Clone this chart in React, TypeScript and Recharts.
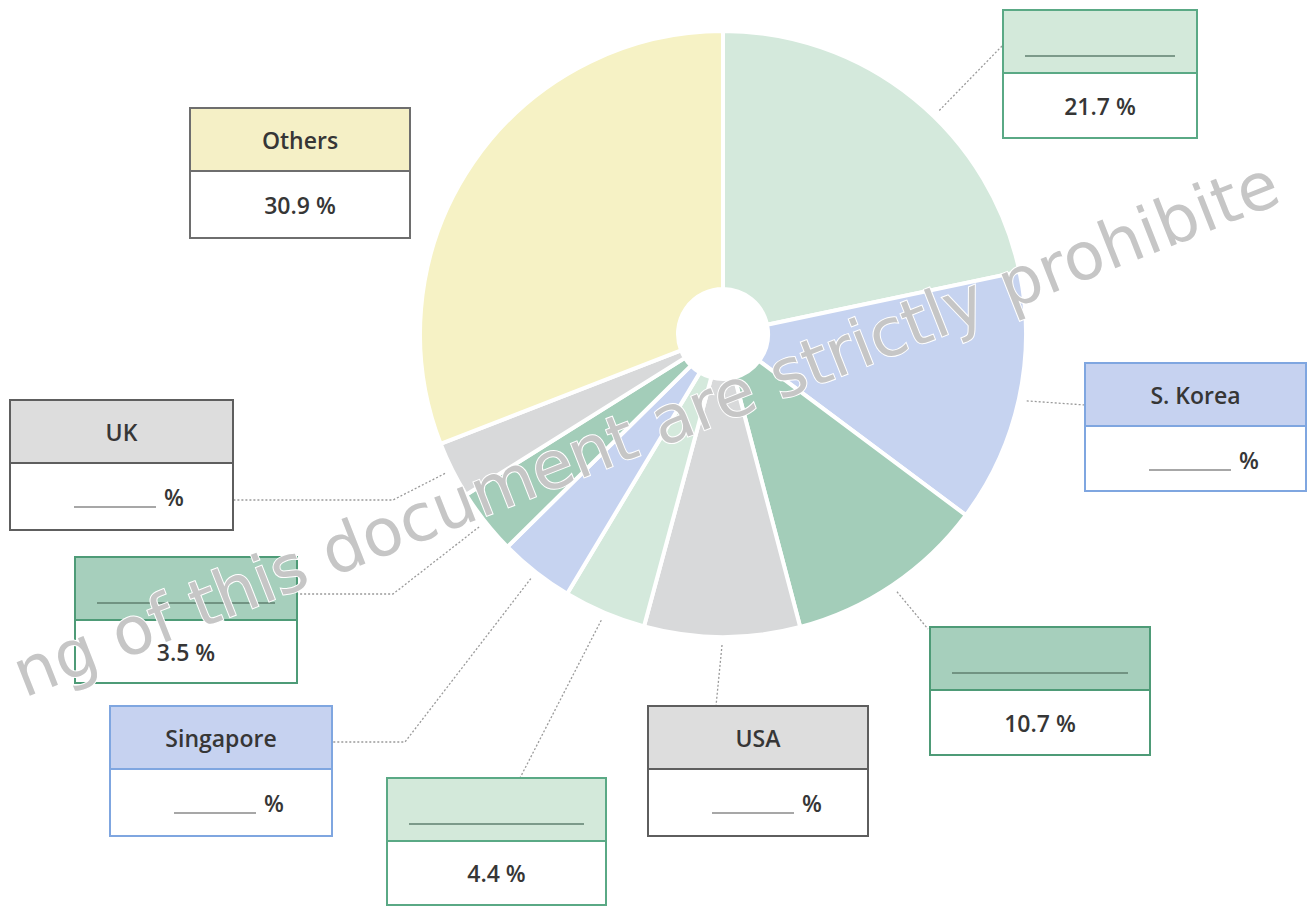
import React from 'react';
import { PieChart, Pie, Cell } from 'recharts';

// slices clockwise from 12 o'clock
const countries = ['', 'S. Korea', '', 'USA', '', 'Singapore', '', 'UK', 'Others'];
const shares = [21.7, 13.5, 10.7, 8.3, 4.4, 4.0, 3.5, 3.0, 30.9];
// what the worksheet prints in the value row (null = blank to fill in)
const printedShares = ['21.7 %', null, '10.7 %', null, '4.4 %', null, '3.5 %', null, '30.9 %'];

const sliceColors = ['#d4e9dc', '#c6d3f0', '#a3cdb9', '#d8d9da', '#d4e9dc', '#c6d3f0', '#a3cdb9', '#d8d9da', '#f6f2c5'];
const headerColors = ['#d3e9da', '#c6d2f0', '#a6cfbc', '#dddddd', '#d3e9da', '#c6d2f0', '#a6cfbc', '#dddddd', '#f5f0c6'];
const borderColors = ['#5aa985', '#7fa6e0', '#4e9b77', '#5e5e5e', '#5aa985', '#7fa6e0', '#4e9b77', '#5e5e5e', '#6e6e6e'];

const watermark = 'ng of this document are strictly prohibite';

const data = shares.map((v, i) => ({ name: countries[i], value: v }));

// label box layout, same order as the slices
const boxes = [
  { x: 1003, y: 10, w: 194, h: 128, attach: [1003, 45], nudge: -5 },
  { x: 1085, y: 363, w: 221, h: 128, attach: [1085, 405] },
  { x: 930, y: 627, w: 220, h: 128, attach: [928, 629] },
  { x: 648, y: 706, w: 220, h: 130, attach: [716, 706] },
  { x: 387, y: 778, w: 219, h: 127, attach: [520, 778] },
  { x: 110, y: 706, w: 222, h: 130, elbow: [405, 742], attach: [332, 742] },
  { x: 75, y: 557, w: 222, h: 126, elbow: [393, 594], attach: [297, 594] },
  { x: 10, y: 400, w: 223, h: 130, elbow: [393, 500], attach: [233, 500] },
  { x: 190, y: 108, w: 220, h: 130 },
];

const HEAD = 63;
const RAD = Math.PI / 180;
const font = '"Open Sans", "Noto Sans", sans-serif';

function BoxLabel(props: any) {
  const { cx, cy, midAngle, outerRadius, index } = props;
  const b = boxes[index];
  const name = countries[index];
  const printed = printedShares[index];
  const border = borderColors[index];
  const rowY = b.y + HEAD;

  let line = null;
  if (b.attach) {
    const a = (midAngle + (b.nudge || 0)) * RAD;
    const r = outerRadius + 8;
    const sx = cx + r * Math.cos(-a);
    const sy = cy + r * Math.sin(-a);
    const pts = [[sx, sy]];
    if (b.elbow) pts.push(b.elbow);
    pts.push(b.attach);
    line = (
      <polyline
        points={pts.map(p => p.join(',')).join(' ')}
        fill="none"
        stroke="#9a9a9a"
        strokeWidth={1.3}
        strokeDasharray="2 2"
      />
    );
  }

  return (
    <g>
      {line}
      <rect x={b.x} y={b.y} width={b.w} height={b.h} fill="#ffffff" stroke={border} strokeWidth={2} />
      <rect x={b.x} y={b.y} width={b.w} height={HEAD} fill={headerColors[index]} stroke={border} strokeWidth={2} />
      {name ? (
        <text x={b.x + b.w / 2} y={b.y + HEAD / 2} textAnchor="middle" dominantBaseline="central"
          fontFamily={font} fontSize={23} fontWeight={600} fill="#363636">
          {name}
        </text>
      ) : (
        <line x1={b.x + 22} x2={b.x + b.w - 22} y1={b.y + 46} y2={b.y + 46} stroke="#5f7f6f" strokeWidth={1.6} />
      )}
      {printed ? (
        <text x={b.x + b.w / 2} y={rowY + (b.h - HEAD) / 2} textAnchor="middle" dominantBaseline="central"
          fontFamily={font} fontSize={23} fontWeight={600} fill="#363636">
          {printed}
        </text>
      ) : (
        <g>
          <line x1={b.x + 64} x2={b.x + 146} y1={rowY + 44} y2={rowY + 44} stroke="#8a8a8a" strokeWidth={1.4} />
          <text x={b.x + 164} y={rowY + 34} textAnchor="middle" dominantBaseline="central"
            fontFamily={font} fontSize={23} fontWeight={600} fill="#363636">
            %
          </text>
        </g>
      )}
    </g>
  );
}

export default function App() {
  return (
    <div style={{ position: 'absolute', left: 0, top: 0, width: 1315, height: 907, background: '#ffffff' }}>
      <PieChart width={1315} height={907}>
        <Pie
          data={data}
          dataKey="value"
          nameKey="name"
          cx={718}
          cy={329}
          innerRadius={45}
          outerRadius={303}
          startAngle={90}
          endAngle={-270}
          stroke="#ffffff"
          strokeWidth={4}
          label={BoxLabel}
          labelLine={false}
          isAnimationActive={false}
        >
          {data.map((d, i) => (
            <Cell key={i} fill={sliceColors[i]} />
          ))}
        </Pie>
      </PieChart>
      <svg width={1315} height={907} style={{ position: 'absolute', left: 0, top: 0, pointerEvents: 'none' }}>
        <text
          x={654}
          y={450}
          textAnchor="middle"
          transform="rotate(-21.5 654 450)"
          fontFamily='"DejaVu Sans", sans-serif'
          fontSize={66}
          fill="#c6c6c6"
          stroke="#ffffff"
          strokeWidth={2}
          paintOrder="stroke"
        >
          {watermark}
        </text>
      </svg>
    </div>
  );
}
